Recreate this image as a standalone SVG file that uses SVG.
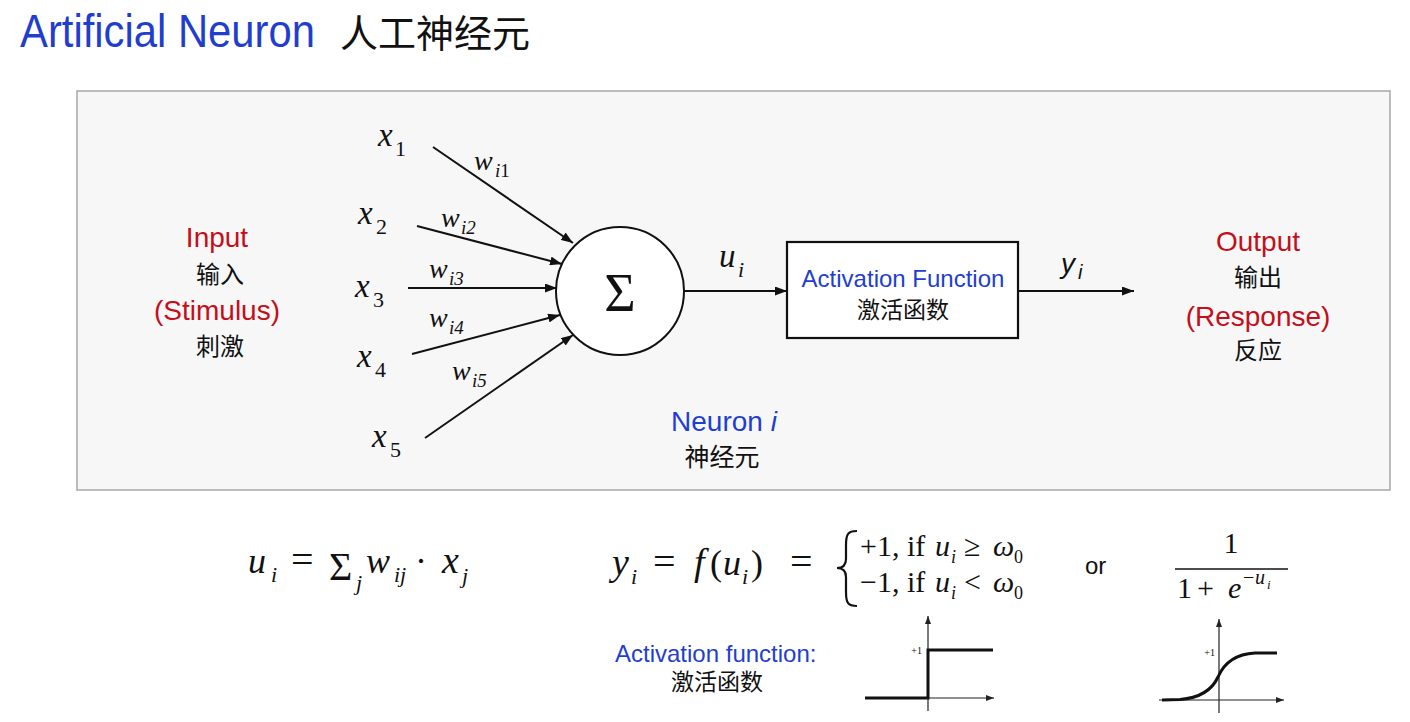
<svg xmlns="http://www.w3.org/2000/svg" width="1410" height="722" viewBox="0 0 1410 722">
<defs>
<style>
.sans{font-family:"Liberation Sans",Arial,sans-serif}
.cjk{font-family:"Liberation Sans","Noto Sans CJK SC",sans-serif;fill:#111}
.blue{fill:#1f3ed0}
.red{fill:#c40f1a}
.mi{font-family:"Liberation Serif","Times New Roman",serif;font-style:italic;fill:#111}
.mu{font-family:"Liberation Serif","Times New Roman",serif;fill:#111}
.ln{stroke:#111;stroke-width:2;fill:none}
.ax{stroke:#222;stroke-width:1.2;fill:none}
.cv{stroke:#111;stroke-width:3;fill:none}
</style>
<marker id="ah" viewBox="0 0 12 9" refX="12" refY="4.5" markerWidth="12" markerHeight="9" markerUnits="userSpaceOnUse" orient="auto">
<path d="M0,0 L12,4.5 L0,9 z" fill="#111"/>
</marker>
<marker id="ahs" viewBox="0 0 8 6" refX="8" refY="3" markerWidth="8" markerHeight="6" markerUnits="userSpaceOnUse" orient="auto">
<path d="M0,0 L8,3 L0,6 z" fill="#222"/>
</marker>
</defs>
<rect width="1410" height="722" fill="#ffffff"/>

<g id="title">
<text x="20" y="47" class="sans blue" font-size="46" textLength="295" lengthAdjust="spacingAndGlyphs">Artificial Neuron</text>
<text x="340" y="47" class="cjk" font-size="38">人工神经元</text>
</g>

<g id="panel">
<rect x="77" y="91" width="1313" height="399" fill="#f7f7f7" stroke="#a8a8a8" stroke-width="1.5"/>
</g>

<g id="connectors">
<line class="ln" x1="433" y1="147" x2="573" y2="243" marker-end="url(#ah)"/>
<line class="ln" x1="417" y1="226" x2="562" y2="264" marker-end="url(#ah)"/>
<line class="ln" x1="408" y1="288" x2="557" y2="288" marker-end="url(#ah)"/>
<line class="ln" x1="412" y1="354" x2="560" y2="315" marker-end="url(#ah)"/>
<line class="ln" x1="425" y1="438" x2="573" y2="335" marker-end="url(#ah)"/>
<line class="ln" x1="684" y1="291" x2="787" y2="291" marker-end="url(#ah)"/>
<line class="ln" x1="1018" y1="291" x2="1134" y2="291" marker-end="url(#ah)"/>
</g>

<g id="input-label" text-anchor="middle">
<text x="217" y="247" class="sans red" font-size="28">Input</text>
<text x="220" y="283" class="cjk" font-size="24">输入</text>
<text x="217" y="320" class="sans red" font-size="28">(Stimulus)</text>
<text x="220" y="355" class="cjk" font-size="24">刺激</text>
</g>

<g id="inputs">
<text x="378" y="146" class="mi" font-size="33">x</text><text x="395" y="156" class="mu" font-size="22">1</text>
<text x="358" y="224" class="mi" font-size="33">x</text><text x="376" y="234" class="mu" font-size="22">2</text>
<text x="355" y="297" class="mi" font-size="33">x</text><text x="373" y="307" class="mu" font-size="22">3</text>
<text x="357" y="367" class="mi" font-size="33">x</text><text x="375" y="377" class="mu" font-size="22">4</text>
<text x="372" y="447" class="mi" font-size="33">x</text><text x="390" y="457" class="mu" font-size="22">5</text>
</g>

<g id="weights">
<text x="474" y="170" class="mi" font-size="28">w</text><text x="495" y="177" class="mi" font-size="19">i<tspan class="mu" style="font-style:normal">1</tspan></text>
<text x="441" y="227" class="mi" font-size="28">w</text><text x="461" y="234" class="mi" font-size="19">i2</text>
<text x="429" y="278" class="mi" font-size="28">w</text><text x="449" y="285" class="mi" font-size="19">i3</text>
<text x="429" y="327" class="mi" font-size="28">w</text><text x="449" y="334" class="mi" font-size="19">i4</text>
<text x="452" y="380" class="mi" font-size="28">w</text><text x="472" y="387" class="mi" font-size="19">i5</text>
</g>

<g id="neuron">
<circle cx="620" cy="291" r="64" fill="#ffffff" stroke="#111" stroke-width="2"/>
<text x="620" y="311" class="mu" font-size="54" text-anchor="middle">Σ</text>
</g>

<g id="u-label">
<text x="719" y="267" class="mi" font-size="33">u</text><text x="738" y="277" class="mi" font-size="22">i</text>
</g>

<g id="activation-box">
<rect x="787" y="242" width="231" height="96" fill="#ffffff" stroke="#111" stroke-width="2.2"/>
<text x="903" y="287" class="sans blue" font-size="24" text-anchor="middle">Activation Function</text>
<text x="903" y="318" class="cjk" font-size="23" text-anchor="middle">激活函数</text>
</g>

<g id="y-label">
<text x="1061" y="273" class="sans" font-style="italic" font-size="28" fill="#111">y</text><text x="1078" y="279" class="sans" font-style="italic" font-size="20" fill="#111">i</text>
</g>

<g id="output-label" text-anchor="middle">
<text x="1258" y="251" class="sans red" font-size="28">Output</text>
<text x="1258" y="286" class="cjk" font-size="24">输出</text>
<text x="1258" y="326" class="sans red" font-size="28">(Response)</text>
<text x="1258" y="359" class="cjk" font-size="24">反应</text>
</g>

<g id="neuron-label" text-anchor="middle">
<text x="724" y="431" class="sans blue" font-size="28">Neuron <tspan font-style="italic">i</tspan></text>
<text x="722" y="466" class="cjk" font-size="25">神经元</text>
</g>

<g id="formula-sum">
<text x="248" y="573" class="mi" font-size="36">u</text>
<text x="271" y="582" class="mi" font-size="22">i</text>
<text x="291" y="573" class="mu" font-size="40">=</text>
<text x="329" y="580" class="mu" font-size="40">Σ</text>
<text x="356" y="590" class="mi" font-size="22">j</text>
<text x="366" y="573" class="mi" font-size="36">w</text>
<text x="394" y="582" class="mi" font-size="22">ij</text>
<text x="415" y="573" class="mu" font-size="36">·</text>
<text x="442" y="573" class="mi" font-size="38">x</text>
<text x="462" y="583" class="mi" font-size="22">j</text>
</g>

<g id="formula-step">
<text x="612" y="575" class="mi" font-size="38">y</text>
<text x="631" y="584" class="mi" font-size="22">i</text>
<text x="653" y="575" class="mu" font-size="40">=</text>
<text x="694" y="575" class="mi" font-size="38">f</text>
<text x="710" y="575" class="mu" font-size="36">(</text>
<text x="723" y="575" class="mi" font-size="36">u</text>
<text x="742" y="584" class="mi" font-size="22">i</text>
<text x="751" y="575" class="mu" font-size="36">)</text>
<text x="790" y="575" class="mu" font-size="40">=</text>
<path d="M857 531 C848 531 846 534 846 545 L846 559 C846 565 843 568 837 568 C843 568 846 571 846 577 L846 592 C846 603 848 606 857 606" stroke="#111" stroke-width="2.2" fill="none"/>
<text x="860" y="556" class="mu" font-size="30">+1, if</text>
<text x="935" y="556" class="mi" font-size="30">u</text>
<text x="951" y="563" class="mi" font-size="18">i</text>
<text x="964" y="556" class="mu" font-size="30">≥</text>
<text x="993" y="556" class="mi" font-size="30">ω</text>
<text x="1014" y="563" class="mu" font-size="18">0</text>
<text x="860" y="592" class="mu" font-size="30">−1, if</text>
<text x="935" y="592" class="mi" font-size="30">u</text>
<text x="951" y="599" class="mi" font-size="18">i</text>
<text x="964" y="592" class="mu" font-size="30">&lt;</text>
<text x="993" y="592" class="mi" font-size="30">ω</text>
<text x="1014" y="599" class="mu" font-size="18">0</text>
<text x="1085" y="574" class="sans" font-size="24" fill="#111">or</text>
</g>

<g id="formula-sigmoid">
<text x="1231" y="553" class="mu" font-size="30" text-anchor="middle">1</text>
<line x1="1175" y1="569" x2="1288" y2="569" stroke="#111" stroke-width="1.6"/>
<text x="1177" y="598" class="mu" font-size="30">1</text>
<text x="1197" y="598" class="mu" font-size="30">+</text>
<text x="1228" y="598" class="mi" font-size="30">e</text>
<text x="1243" y="584" class="mu" font-size="20">−</text>
<text x="1255" y="584" class="mi" font-size="20">u</text>
<text x="1267" y="589" class="mi" font-size="13">i</text>
</g>

<g id="activation-caption">
<text x="615" y="662" class="sans blue" font-size="24">Activation function:</text>
<text x="717" y="690" class="cjk" font-size="23" text-anchor="middle">激活函数</text>
</g>

<g id="step-graph">
<line class="ax" x1="865" y1="698" x2="994" y2="698" marker-end="url(#ahs)"/>
<line class="ax" x1="928" y1="711" x2="928" y2="616" marker-end="url(#ahs)"/>
<path class="cv" d="M865 698 H928 V650 H993"/>
<text x="922" y="654" class="mu" font-size="10" text-anchor="end">+1</text>
</g>

<g id="sigmoid-graph">
<line class="ax" x1="1159" y1="700" x2="1284" y2="700" marker-end="url(#ahs)"/>
<line class="ax" x1="1219" y1="713" x2="1219" y2="619" marker-end="url(#ahs)"/>
<path class="cv" d="M1162 700 L1180 699.5 C1200 698 1212 690 1218 677 C1224 663 1236 654 1255 653 L1277 653"/>
<text x="1215" y="656" class="mu" font-size="10" text-anchor="end">+1</text>
</g>
</svg>
